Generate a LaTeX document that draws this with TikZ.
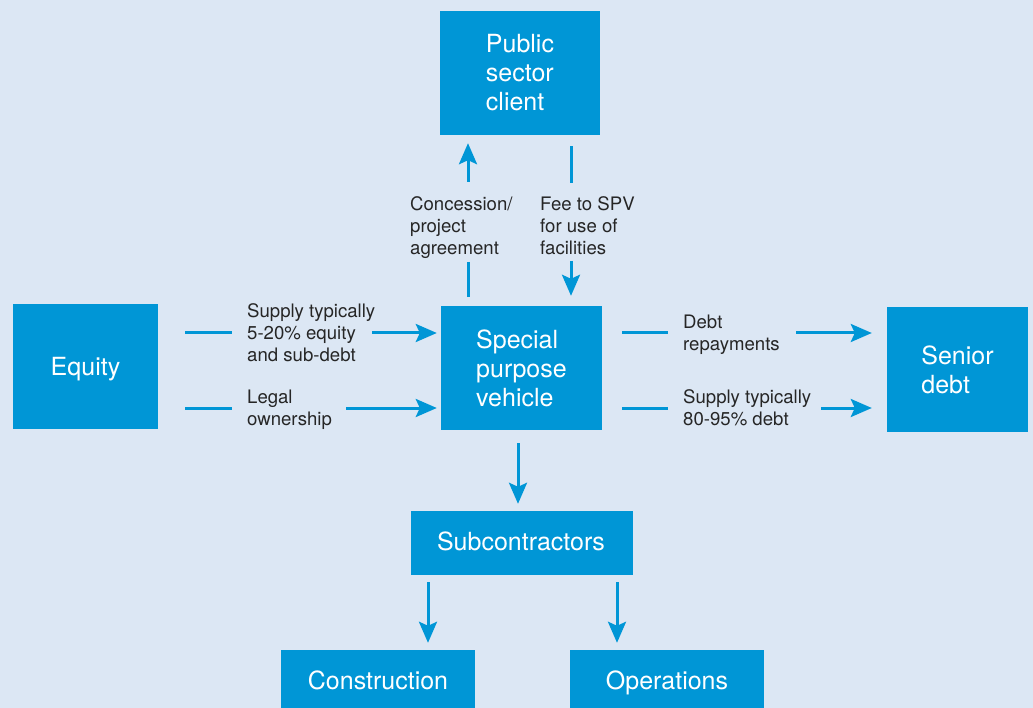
\documentclass[tikz,border=0pt]{standalone}
\usepackage{fontspec}
\setmainfont{TeX Gyre Heros}
\usetikzlibrary{arrows.meta}
\definecolor{bg}{HTML}{DCE7F4}
\definecolor{boxblue}{HTML}{0096D6}
\definecolor{txt}{HTML}{262626}
\begin{document}
\begin{tikzpicture}[x=1pt,y=-1pt,
  box/.style={fill=boxblue,text=white,inner sep=0pt,align=left,font=\fontsize{25}{29}\selectfont},
  lbl/.style={text=txt,inner sep=0pt,align=left,anchor=north west,font=\fontsize{18.6}{22}\selectfont},
  conn/.style={draw=boxblue,line width=3pt},
  arr/.style={conn,-{Stealth[length=21pt,width=18pt,inset=4pt]}}]
\useasboundingbox (0,0) rectangle (1033,708);
\clip (0,0) rectangle (1033,708);
\fill[bg] (0,0) rectangle (1033,708);
% boxes
\node[box,minimum width=160pt,minimum height=124pt] (pub) at (520,73) {Public\\sector\\client};
\node[box,minimum width=145pt,minimum height=125pt] (equity) at (85.5,366.5) {};
\node[text=white,inner sep=0pt,font=\fontsize{25}{29}\selectfont] (eqtext) at (85.5,369) {Equity};
\node[box,minimum width=161pt,minimum height=124pt] (spv) at (521.5,368) {Special\\purpose\\vehicle};
\node[box,minimum width=141pt,minimum height=125pt] (senior) at (957.5,369.5) {Senior\\debt};
\node[box,minimum width=222pt,minimum height=64pt] (sub) at (522,543) {};
\node[text=white,inner sep=0pt,font=\fontsize{25}{29}\selectfont] (subtext) at (521,541) {Subcontractors};
\node[box,minimum width=194pt,minimum height=60pt] (cons) at (378,680) {Construction};
\node[box,minimum width=194pt,minimum height=60pt] (ops) at (667,680) {};
\node[text=white,inner sep=0pt,font=\fontsize{25}{29}\selectfont] (opstext) at (667,683) {Operations};
% labels
\node[lbl] (lconc) at (410,196.5) {Concession/\\project\\agreement};
\node[lbl] (lfee) at (540,196.5) {Fee to SPV\\for use of\\facilities};
\node[lbl] (lsup1) at (247,303.5) {Supply typically\\5-20\% equity\\and sub-debt};
\node[lbl] (llegal) at (247,389.5) {Legal\\ownership};
\node[lbl] (ldebt) at (683,314.5) {Debt\\repayments};
\node[lbl] (lsup2) at (683,389.5) {Supply typically\\80-95\% debt};
% coordinates
\coordinate (u1) at (468,182);
\coordinate (u2) at (468,262);
\coordinate (d1) at (571,183);
\coordinate (d2) at (571,261);
\coordinate (e1) at (232,333);
\coordinate (e2) at (372,333);
\coordinate (e3) at (232,408);
\coordinate (e4) at (346,408);
\coordinate (s1) at (668,333);
\coordinate (s2) at (796,333);
\coordinate (s3) at (668,408);
\coordinate (s4) at (821,408);
\coordinate (v) at (518,0);
\coordinate (vc) at (428,0);
\coordinate (vo) at (617,0);
% connectors
\draw[arr,shorten >=8pt] (u1) -- (u1 |- pub.south);
\draw[conn,shorten >=9pt] (u2) -- (u2 |- spv.north);
\draw[conn,shorten >=11pt] (d1) -- (d1 |- pub.south);
\draw[arr,shorten >=10pt] (d2) -- (d2 |- spv.north);
\draw[conn,shorten <=27pt] (e1 -| equity.east) -- (e1);
\draw[arr,shorten >=4pt] (e2) -- (e2 -| spv.west);
\draw[conn,shorten <=27pt] (e3 -| equity.east) -- (e3);
\draw[arr,shorten >=4pt] (e4) -- (e4 -| spv.west);
\draw[conn,shorten <=20pt] (s1 -| spv.east) -- (s1);
\draw[arr,shorten >=15pt] (s2) -- (s2 -| senior.west);
\draw[conn,shorten <=20pt] (s3 -| spv.east) -- (s3);
\draw[arr,shorten >=15pt] (s4) -- (s4 -| senior.west);
\draw[arr,shorten <=13pt,shorten >=7pt] (v |- spv.south) -- (v |- sub.north);
\draw[arr,shorten <=7pt,shorten >=7pt] (vc |- sub.south) -- (vc |- cons.north);
\draw[arr,shorten <=7pt,shorten >=7pt] (vo |- sub.south) -- (vo |- ops.north);
\end{tikzpicture}
\end{document}
